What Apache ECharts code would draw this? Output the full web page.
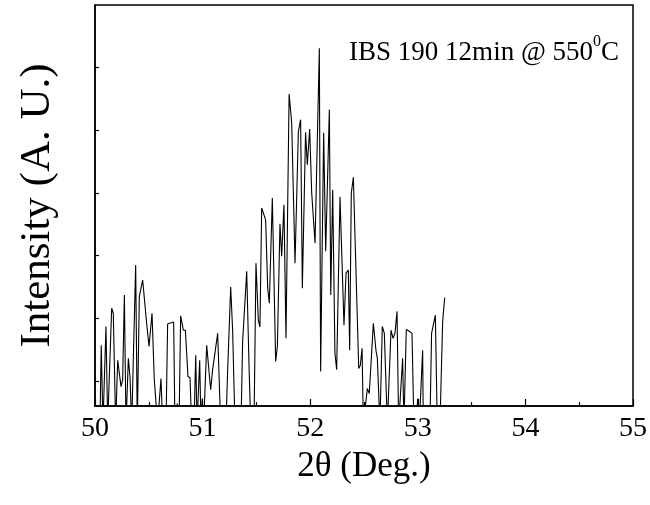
<!DOCTYPE html>
<html>
<head>
  <meta charset="UTF-8" />
  <title>XRD scan</title>
  <style type="text/css">
    * { margin: 0; padding: 0; }
    #main { width: 650px; height: 505px; background: #fff; }
  </style>
</head>
<body>
  <div id="main"></div>
<script src="https://cdn.jsdelivr.net/npm/echarts@6/dist/echarts.min.js"></script>
<script type="text/javascript">
  // 2theta (deg)
  let twoTheta = [
    50.000, 50.046, 50.058, 50.074, 50.102, 50.118, 50.155, 50.170, 50.192, 50.211,
    50.242, 50.257, 50.273, 50.288, 50.310, 50.325, 50.341, 50.378, 50.393, 50.412,
    50.443, 50.458, 50.480, 50.502, 50.530, 50.551, 50.567, 50.582, 50.598, 50.613,
    50.629, 50.660, 50.675, 50.706, 50.731, 50.743, 50.765, 50.781, 50.796, 50.821,
    50.840, 50.864, 50.883, 50.898, 50.920, 50.936, 50.948, 50.973, 50.985, 50.997,
    51.010, 51.038, 51.075, 51.093, 51.109, 51.140, 51.155, 51.168, 51.217, 51.233,
    51.261, 51.279, 51.301, 51.357, 51.372, 51.388, 51.410, 51.431, 51.447, 51.478,
    51.496, 51.518, 51.533, 51.549, 51.564, 51.586, 51.605, 51.620, 51.648, 51.679,
    51.695, 51.719, 51.735, 51.756, 51.775, 51.804, 51.828, 51.859, 51.890, 51.911,
    51.927, 51.957, 51.973, 51.995, 52.014, 52.045, 52.085, 52.097, 52.125, 52.144,
    52.178, 52.191, 52.209, 52.230, 52.246, 52.277, 52.314, 52.333, 52.354, 52.367,
    52.382, 52.401, 52.451, 52.466, 52.482, 52.494, 52.531, 52.549, 52.587, 52.611,
    52.624, 52.648, 52.670, 52.689, 52.717, 52.751, 52.770, 52.788, 52.807, 52.822,
    52.859, 52.871, 52.893, 52.915, 52.946, 52.964, 52.984, 52.999, 53.014, 53.045,
    53.051, 53.113, 53.128, 53.147, 53.163, 53.181, 53.206, 53.231, 53.250
  ]
  // intensity (arb. units), values below 0 run off the bottom of the frame
  let intensity = [
    -3, -3, 9.7, -3, 12.7, -3, 15.6, 14.8, -3, 7.3,
    3.1, 4.2, 17.7, -3, 7.6, 4.7, -3, 22.5, -3, 17.5,
    20.1, 20.2, 13.2, 9.5, 14.8, 4.2, 4.3, -3, -3, 4.4,
    -3, -3, 13.1, 13.3, 13.4, -3, 0.4, -3, 14.4, 12.1,
    12.1, 4.7, 4.5, -3, -3, 8.1, -3, 7.3, -3, 1.2,
    -3, 9.7, 2.6, 5.8, 6.0, 11.6, 11.7, -3, -3, 5.8,
    19.0, 12.1, -3, -3, 10.3, 10.5, 21.5, 6.8, -3, -3,
    22.8, 13.7, 12.6, 31.6, 31.8, 29.7, 18.8, 16.4, 33.2, 7.1,
    9.5, 29.1, 23.9, 32.1, 10.8, 49.8, 45.2, 22.8, 43.8, 45.7,
    18.8, 43.7, 38.5, 44.2, 34.0, 26.0, 57.1, 5.5, 43.6, 24.7,
    47.3, 17.7, 34.5, 8.4, 5.8, 33.4, 12.9, 21.2, 21.7, 8.9,
    34.0, 36.5, 6.0, 6.5, 9.2, -3, 2.8, 2.0, 13.2, 8.9,
    7.6, -3, 12.7, 11.6, -3, 12.1, 10.8, 11.6, 15.1, -3,
    7.6, -3, 12.2, 12.0, 11.6, -3, -3, 1.2, -3, 8.9,
    -3, -3, 11.6, 13.2, 14.5, -3, -3, 13.5, 17.3
  ]
  let xTicks = [50, 51, 52, 53, 54, 55]
  let yTicks = [4, 14, 24, 34, 44, 54]

  let serif = '"Liberation Serif", "DejaVu Serif", serif'
  let myChart = echarts.init(document.getElementById('main'))

  let option = {
    animation: false,
    backgroundColor: '#fff',
    title: {
      text: '{a|IBS 190 12min @ 550}{s|0}{a|C}',
      right: 26,
      top: 29,
      textStyle: {
        rich: {
          a: { fontFamily: serif, fontSize: 27, fontWeight: 'normal', color: '#000', verticalAlign: 'bottom', lineHeight: 32 },
          s: { fontFamily: serif, fontSize: 16, fontWeight: 'normal', color: '#000', verticalAlign: 'top', lineHeight: 32, padding: [0, 0, 13, 0] }
        }
      }
    },
    grid: {
      left: 95,
      right: 17,
      top: 5,
      bottom: 99,
      show: true,
      borderColor: '#000',
      borderWidth: 1.5,
      backgroundColor: 'transparent'
    },
    xAxis: {
      type: 'value',
      min: xTicks[0],
      max: xTicks[xTicks.length - 1],
      interval: 1,
      name: '2\u03b8 (Deg.)',
      nameLocation: 'middle',
      nameGap: 43,
      nameTextStyle: { fontFamily: serif, fontSize: 35, color: '#000' },
      axisLine: { show: true, onZero: false, lineStyle: { color: '#000', width: 1.5 } },
      axisTick: { show: true, inside: true, length: 7, lineStyle: { color: '#000', width: 1.2 } },
      minorTick: { show: true, splitNumber: 2, length: 4, lineStyle: { color: '#000', width: 1.2 } },
      axisLabel: { fontFamily: serif, fontSize: 28, color: '#000', margin: 9 },
      splitLine: { show: false }
    },
    yAxis: {
      type: 'value',
      min: 0,
      max: 64,
      name: 'Intensity (A. U.)',
      nameLocation: 'middle',
      nameGap: 36,
      nameTextStyle: { fontFamily: serif, fontSize: 43, color: '#000' },
      axisLine: { show: true, lineStyle: { color: '#000', width: 1.5 } },
      axisTick: { show: true, inside: true, length: 4, customValues: yTicks, lineStyle: { color: '#000', width: 1.2 } },
      axisLabel: { show: false },
      splitLine: { show: false }
    },
    series: [{
      type: 'line',
      data: twoTheta.map((x, i) => [x, intensity[i]]),
      showSymbol: false,
      clip: true,
      lineStyle: { color: '#000', width: 1.1 }
    }]
  }
  myChart.setOption(option)
</script>
</body>
</html>
